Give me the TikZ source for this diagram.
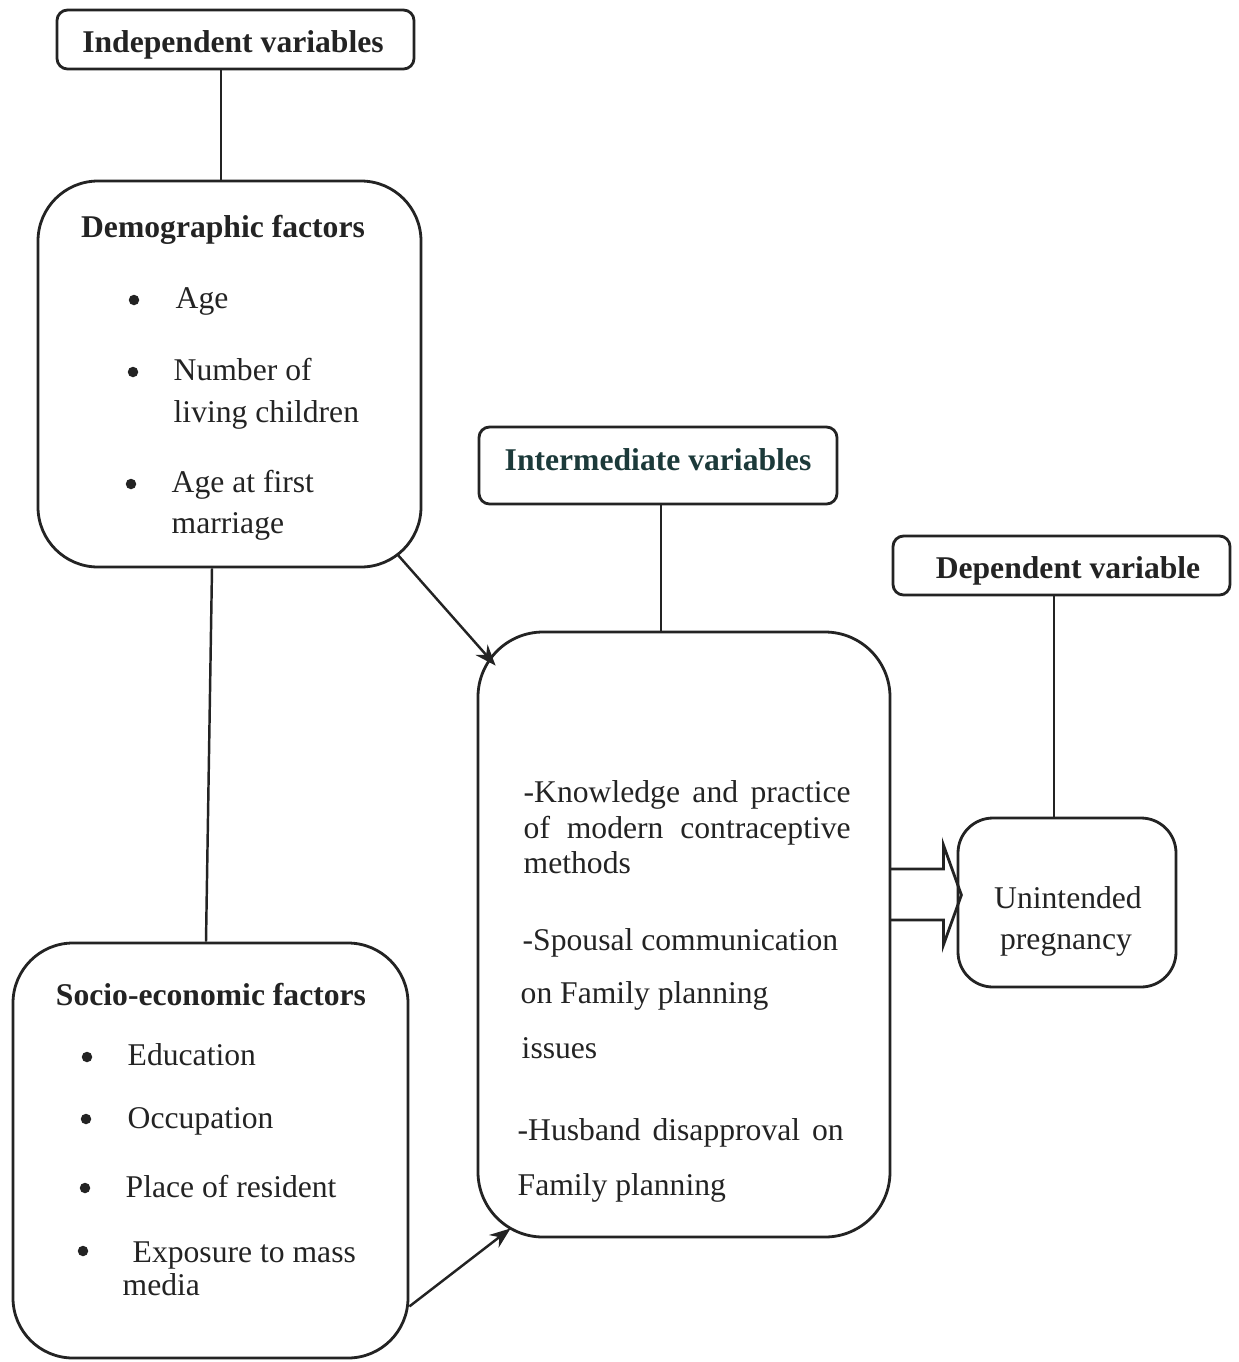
\documentclass[tikz,border=0pt]{standalone}
\usepackage{fontspec}
\setmainfont{Liberation Serif}
\usetikzlibrary{arrows.meta,calc}
\definecolor{ink}{RGB}{35,35,35}
\definecolor{tealink}{RGB}{28,58,58}
\begin{document}
\begin{tikzpicture}[x=1cm,y=1cm,
 every node/.style={font=\fontsize{9}{12}\selectfont, text=ink},
 titlebox/.style={draw=ink, line width=0.8pt, rounded corners=3pt, inner sep=0pt},
 bigbox/.style={draw=ink, line width=0.8pt, inner sep=0pt},
 txt/.style={anchor=base west, inner sep=0pt},
 ctr/.style={anchor=base, inner sep=0pt},
 ttl/.style={anchor=base, inner sep=0pt, font=\fontsize{9}{12}\selectfont\bfseries},
 bul/.style={circle, fill=ink, inner sep=0pt, minimum size=0.105cm},
 conn/.style={line width=0.7pt, draw=ink},
 arr/.style={conn, -{Stealth[length=6pt,width=4.5pt]}}
]
\useasboundingbox (0,0) rectangle (12.39,-13.62);

% boxes
\node[titlebox, minimum width=3.57cm, minimum height=0.59cm] (indep) at (2.355,-0.395) {};
\node[bigbox, rounded corners=0.6cm, minimum width=3.83cm, minimum height=3.86cm] (demo) at (2.295,-3.74) {};
\node[bigbox, rounded corners=0.6cm, minimum width=3.95cm, minimum height=4.15cm] (socio) at (2.105,-11.505) {};
\node[titlebox, minimum width=3.58cm, minimum height=0.77cm] (intv) at (6.58,-4.655) {};
\node[bigbox, rounded corners=0.65cm, minimum width=4.12cm, minimum height=6.05cm] (inter) at (6.84,-9.345) {};
\node[titlebox, minimum width=3.37cm, minimum height=0.59cm] (depv) at (10.615,-5.655) {};
\node[bigbox, rounded corners=0.35cm, minimum width=2.18cm, minimum height=1.69cm] (unint) at (10.67,-9.025) {};

% titles
\node[ttl] (indepT) at (2.33,-0.52) {Independent variables};
\node[ttl, text=tealink] (intvT) at (6.58,-4.70) {Intermediate variables};
\node[ttl] (depvT) at (10.68,-5.78) {Dependent variable};

% demographic text
\node[ttl] (demoT) at (2.23,-2.37) {Demographic factors};
\node[bul] (db1) at (1.34,-3.00) {};
\node[txt] (dt1) at (1.75,-3.08) {Age};
\node[bul] (db2) at (1.33,-3.72) {};
\node[txt] (dt2) at (1.73,-3.80) {Number of};
\node[txt] (dt3) at (1.73,-4.22) {living children};
\node[bul] (db3) at (1.31,-4.84) {};
\node[txt] (dt4) at (1.71,-4.92) {Age at first};
\node[txt] (dt5) at (1.71,-5.33) {marriage};

% socio-economic text
\node[ttl] (socT) at (2.11,-10.05) {Socio-economic factors};
\node[bul] (sb1) at (0.87,-10.57) {};
\node[txt] (st1) at (1.27,-10.65) {Education};
\node[bul] (sb2) at (0.86,-11.19) {};
\node[txt] (st2) at (1.27,-11.28) {Occupation};
\node[bul] (sb3) at (0.85,-11.88) {};
\node[txt] (st3) at (1.25,-11.97) {Place of resident};
\node[bul] (sb4) at (0.83,-12.51) {};
\node[txt] (st4) at (1.32,-12.62) {Exposure to mass};
\node[txt] (st5) at (1.22,-12.95) {media};

% intermediate text
\node[txt] (it1) at (5.23,-8.02) {\hbox to 3.27cm{-Knowledge and practice}};
\node[txt] (it2) at (5.23,-8.38) {\hbox to 3.27cm{of modern contraceptive}};
\node[txt] (it3) at (5.23,-8.73) {methods};
\node[txt] (it4) at (5.22,-9.50) {-Spousal communication};
\node[txt] (it5) at (5.20,-10.03) {on Family planning};
\node[txt] (it6) at (5.21,-10.58) {issues};
\node[txt] (it7) at (5.17,-11.40) {\hbox to 3.26cm{-Husband disapproval on}};
\node[txt] (it8) at (5.17,-11.95) {Family planning};

% dependent text
\node[ctr] (ut1) at (10.68,-9.08) {Unintended};
\node[ctr] (ut2) at (10.66,-9.49) {pregnancy};

% connectors
\coordinate (c1) at ([xshift=-0.145cm]indep.south);
\draw[conn] (c1) -- (c1 |- demo.north);
\draw[conn] ([xshift=-0.175cm]demo.south) -- ([xshift=-0.045cm]socio.north);
\coordinate (c2) at ([xshift=0.03cm]intv.south);
\draw[conn] (c2) -- (c2 |- inter.north);
\coordinate (c3) at ([xshift=-0.075cm]depv.south);
\draw[conn] (c3) -- (c3 |- unint.north);
\draw[arr] ([shift={(-0.25,0.14)}]demo.south east) -- ([shift={(0.19,-0.35)}]inter.north west);
\draw[arr] ([shift={(0,0.53)}]socio.south east) -- ([shift={(0.34,0.10)}]inter.south west);

% block arrow
\draw[conn, line width=0.8pt, line join=miter] ([shift={(-0.02,0.655)}]inter.east) -- ++(0.54,0) -- ++(0,0.24) -- ++(0.18,-0.50) -- ++(-0.18,-0.50) -- ++(0,0.25) -- ++(-0.54,0);
\end{tikzpicture}
\end{document}
